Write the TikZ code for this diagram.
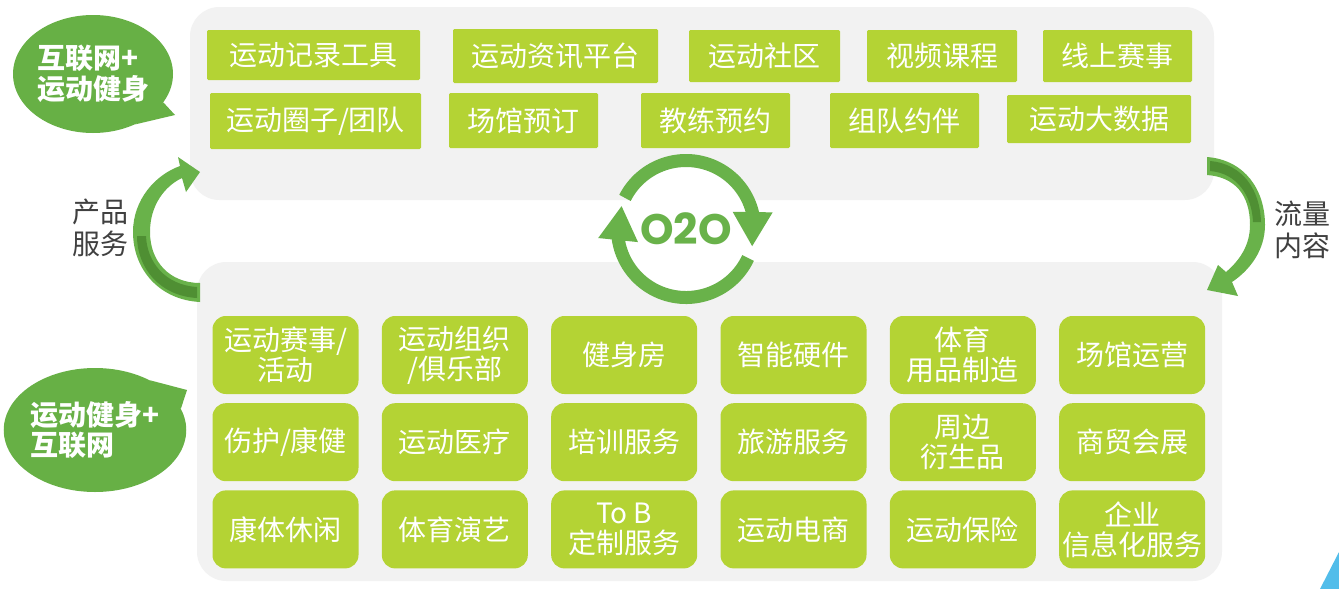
\documentclass[tikz,border=0pt]{standalone}
\usepackage{fontspec}
\setmainfont{Noto Sans CJK SC}
\newfontfamily\otofont{Poppins}
\usetikzlibrary{positioning,arrows.meta,bending,shapes.geometric}
\definecolor{panelgray}{HTML}{F2F2F2}
\definecolor{boxgreen}{HTML}{B4D334}
\definecolor{bubgreen}{HTML}{67B045}
\definecolor{ringgreen}{HTML}{69B24A}
\definecolor{darkgreen}{HTML}{4F8F33}
\definecolor{labelgray}{HTML}{404040}
\definecolor{cornerblue}{HTML}{52BDEA}

\begin{document}
\begin{tikzpicture}[x=0.75pt, y=-0.75pt,
  node distance=6.5pt and 17.1pt,
  tbox/.style={fill=boxgreen, text=white, rounded corners=1pt, inner sep=1pt, font=\fontsize{21}{22.5}\selectfont},
  bbox/.style={fill=boxgreen, text=white, rounded corners=10pt, align=center, inner sep=1pt, minimum width=109.5pt, minimum height=58.5pt, font=\fontsize{21}{22.5}\selectfont},
  bubble/.style={ellipse, fill=bubgreen, text=white, align=left, inner sep=0pt, font=\bfseries\fontsize{21}{23}\selectfont},
  side/.style={text=labelgray, align=center, font=\fontsize{21}{24}\selectfont},
  ring/.style={ringgreen, line width=9.75pt, -{Triangle[width=28pt, length=26pt]}}]
\useasboundingbox (0,0) rectangle (1339,589);
\fill[white] (0,0) rectangle (1339,589);
% the two panels
\fill[panelgray, rounded corners=22pt] (190,7) rectangle (1214,200);
\fill[panelgray, rounded corners=22pt] (197,262) rectangle (1222,581);
% online products
\node[tbox, minimum width=159.75pt, minimum height=37.5pt] (rec) at (313.5,55) {运动记录工具};
\node[tbox, minimum width=153.75pt, minimum height=40.5pt] (info) at (555.5,56) {运动资讯平台};
\node[tbox, minimum width=113.25pt, minimum height=39pt] (comm) at (764.5,56) {运动社区};
\node[tbox, minimum width=112.5pt, minimum height=39pt] (video) at (942,56) {视频课程};
\node[tbox, minimum width=111.75pt, minimum height=39pt] (race) at (1117.5,56) {线上赛事};
\node[tbox, minimum width=158.25pt, minimum height=42pt] (group) at (315.5,121) {运动圈子/团队};
\node[tbox, minimum width=111.75pt, minimum height=41.25pt] (venue) at (523.5,120.5) {场馆预订};
\node[tbox, minimum width=111.75pt, minimum height=41.25pt] (coach) at (715.5,120.5) {教练预约};
\node[tbox, minimum width=111.75pt, minimum height=41.25pt] (team) at (904.5,120.5) {组队约伴};
\node[tbox, minimum width=138pt, minimum height=36pt] (data) at (1099,119) {运动大数据};
% offline services
\node[bbox] (match) at (285.5,355) {运动赛事/\\活动};
\node[bbox, right=of match] (club) {运动组织\\/俱乐部};
\node[bbox, right=of club] (gym) {健身房};
\node[bbox, right=of gym] (smart) {智能硬件};
\node[bbox, right=of smart] (gear) {体育\\用品制造};
\node[bbox, right=of gear] (venueop) {场馆运营};
\node[bbox, below=of match] (rehab) {伤护/康健};
\node[bbox, right=of rehab] (medic) {运动医疗};
\node[bbox, right=of medic] (train) {培训服务};
\node[bbox, right=of train] (tour) {旅游服务};
\node[bbox, right=of tour] (merch) {周边\\衍生品};
\node[bbox, right=of merch] (expo) {商贸会展};
\node[bbox, below=of rehab] (leisure) {康体休闲};
\node[bbox, right=of leisure] (show) {体育演艺};
\node[bbox, right=of show] (tob) {To B\\定制服务};
\node[bbox, right=of tob] (shop) {运动电商};
\node[bbox, right=of shop] (insure) {运动保险};
\node[bbox, right=of insure] (infosys) {企业\\信息化服务};
% O2O cycle
\fill[white] (686,229) circle[radius=62];
\node[font=\otofont\bfseries\fontsize{32}{32}\selectfont, text=ringgreen] (o2o) at (686,229) {O2O};
\draw[ring] (o2o.center) ++(-153:68.5) arc[start angle=-153, end angle=15, radius=68.5];
\draw[ring] (o2o.center) ++(25:68.5) arc[start angle=25, end angle=200, radius=68.5];
% side arrows
\fill[ringgreen] (200,302) .. controls (160,300) and (133,270) .. (133,232) .. controls (133,200) and (155,175) .. (180,166) -- (178,157) -- (200,172) -- (186,192) -- (182,178) .. controls (165,186) and (150,205) .. (150,232) .. controls (150,262) and (170,283) .. (200,283) -- cycle;
\fill[darkgreen] (137,236) .. controls (137,268) and (160,296) .. (197,298) -- (197,287) .. controls (165,285) and (147,262) .. (146,236) -- cycle;
\fill[ringgreen] (1207,157) .. controls (1245,160) and (1265,190) .. (1265,225) .. controls (1265,250) and (1250,270) .. (1232,282) -- (1238,296) -- (1207,290) -- (1218,265) -- (1226,272) .. controls (1240,260) and (1250,245) .. (1250,225) .. controls (1250,195) and (1235,177) .. (1207,175) -- cycle;
\fill[darkgreen] (1210,161) .. controls (1243,164) and (1260,190) .. (1261,222) -- (1253,222) .. controls (1252,196) and (1237,173) .. (1210,171) -- cycle;
\node[side] (prod) at (100,228) {产品\\服务};
\node[side] (flow) at (1302,230) {流量\\内容};
% speech bubbles
\node[bubble, minimum width=120pt, minimum height=88.5pt] (web) at (93,74) {互联网+\\运动健身};
\fill[bubgreen] (web.-22) -- (175,115) -- (web.-50) -- cycle;
\node[bubble, minimum width=127.5pt, minimum height=93pt] (sport) at (95,430) {运动健身+\\互联网};
\fill[bubgreen] (sport.42) -- (187,390) -- (sport.14) -- cycle;
\fill[cornerblue] (1320,589) -- (1339,552) -- (1339,589) -- cycle;
\end{tikzpicture}
\end{document}
